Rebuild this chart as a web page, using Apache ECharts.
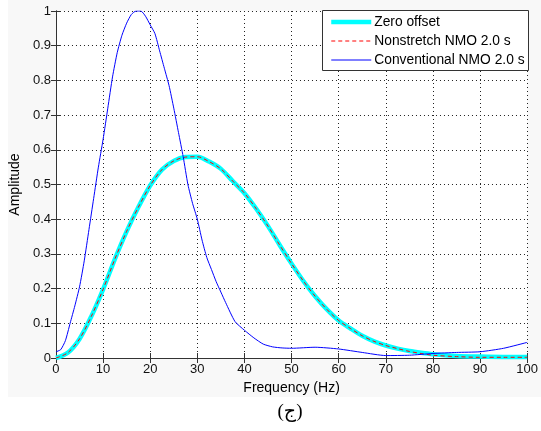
<!DOCTYPE html>
<html><head><meta charset="utf-8">
<script src="https://cdn.jsdelivr.net/npm/echarts@6/dist/echarts.min.js"></script>
<style>html,body{margin:0;padding:0;background:#fff}#c{width:541px;height:431px}</style>
</head><body><div id="c"></div>
<script>
// Frequency samples (Hz)
const freqZero = [0,2.5,5,7.5,10,12.5,15,17.5,20,22.5,25,27.5,30,32.5,35,37.5,40,42.5,45,47.5,50,52.5,55,57.5,60,62.5,65,67.5,70,72.5,75,77.5,80,85,90,95,100];
const zeroOffset = [0,0.015,0.055,0.12,0.198,0.285,0.365,0.435,0.497,0.543,0.568,0.579,0.58,0.566,0.545,0.51,0.475,0.43,0.38,0.325,0.272,0.222,0.178,0.14,0.108,0.085,0.064,0.048,0.036,0.027,0.02,0.015,0.011,0.006,0.004,0.003,0.003];
const nonstretch = [0,0.015,0.055,0.12,0.198,0.285,0.365,0.435,0.497,0.543,0.568,0.579,0.58,0.566,0.545,0.51,0.475,0.43,0.38,0.325,0.272,0.222,0.178,0.14,0.108,0.085,0.064,0.048,0.036,0.027,0.019,0.013,0.008,0.004,0.002,0.002,0.002];
const freqConv = [0,1,2,3,4,5,6,7,8,9,10,11,12,13,14,15,16,17,18,19,20,21,22,23,24,25,26,27,28,29,30,31,32,33,34,35,36,38,40,42,44,46,48,50,55,60,65,70,75,80,85,90,95,100];
const conventional = [0.018,0.024,0.05,0.1,0.15,0.205,0.28,0.37,0.46,0.55,0.63,0.72,0.81,0.88,0.93,0.965,0.99,1.0,1.0,0.985,0.96,0.935,0.885,0.835,0.785,0.72,0.65,0.58,0.5,0.445,0.4,0.34,0.29,0.255,0.22,0.19,0.16,0.105,0.08,0.058,0.04,0.032,0.029,0.028,0.031,0.026,0.016,0.007,0.008,0.013,0.016,0.018,0.028,0.045];
const xTicks = [0,10,20,30,40,50,60,70,80,90,100];
const seriesNames = ['Zero offset','Nonstretch NMO 2.0 s','Conventional NMO 2.0 s'];
const xName = 'Frequency (Hz)';
const yName = 'Amplitude';
const caption = '(ج)';

const pair = (xs, ys) => xs.map((x, i) => [x, ys[i]]);
const FONT = '"Liberation Sans", Arial, sans-serif';
const chart = echarts.init(document.getElementById('c'), null, {renderer: 'canvas'});
const axisCommon = {
  type: 'value',
  axisLine: {show: true, lineStyle: {color: '#333', width: 1}},
  axisTick: {show: true, inside: true, length: 5, lineStyle: {color: '#333'}},
  axisLabel: {color: '#111', fontSize: 13, fontFamily: FONT}
};
chart.setOption({
  backgroundColor: '#ffffff',
  animation: false,
  graphic: [
    {type: 'rect', z: -10, shape: {x: 8, y: 0, width: 533, height: 397}, style: {fill: '#f8f8f8'}},
    {type: 'rect', z: 50, shape: {x: 322.5, y: 10.5, width: 206, height: 60}, style: {fill: '#fff', stroke: '#333', lineWidth: 1}},
    {type: 'text', z: 60, x: 290, y: 412, style: {text: caption, font: '19px "Liberation Serif", "DejaVu Sans", serif', fill: '#000', align: 'center', verticalAlign: 'middle'}}
  ],
  legend: {
    z: 100,
    orient: 'vertical',
    left: 329, top: 15,
    padding: 0,
    itemWidth: 40, itemHeight: 14, itemGap: 5,
    itemStyle: {opacity: 0},
    lineStyle: {width: 'inherit'},
    textStyle: {fontSize: 13.8, fontFamily: FONT, color: '#000', padding: [0,0,0,-2]},
    data: seriesNames
  },
  grid: {left: 53, right: 13, top: 11, bottom: 73, show: true, backgroundColor: '#ffffff', borderWidth: 0},
  xAxis: [
    Object.assign({}, axisCommon, {
      min: 0, max: 100, interval: 10, position: 'bottom',
      name: xName, nameLocation: 'middle', nameGap: 22,
      nameTextStyle: {fontSize: 14, fontFamily: FONT, color: '#000'},
      axisLabel: Object.assign({}, axisCommon.axisLabel, {margin: 5}),
      splitLine: {show: true, lineStyle: {type: [1, 3], color: '#222', width: 1}}
    }),
    Object.assign({}, axisCommon, {
      min: 0, max: 100, interval: 10, position: 'top',
      axisLabel: {show: false}, splitLine: {show: false}
    })
  ],
  yAxis: [
    Object.assign({}, axisCommon, {
      min: 0, max: 1, interval: 0.1, position: 'left',
      name: yName, nameLocation: 'middle', nameGap: 28,
      nameTextStyle: {fontSize: 14, fontFamily: FONT, color: '#000'},
      axisLabel: Object.assign({}, axisCommon.axisLabel, {margin: 5, formatter: v => String(Math.round(v*10)/10)}),
      splitLine: {show: true, lineStyle: {type: [1, 3], color: '#222', width: 1}}
    }),
    Object.assign({}, axisCommon, {
      min: 0, max: 1, interval: 0.1, position: 'right',
      axisLabel: {show: false}, splitLine: {show: false}
    })
  ],
  series: [
    {name: seriesNames[0], type: 'line', data: pair(freqZero, zeroOffset), smooth: 0.3, symbol: 'none',
     lineStyle: {color: '#00ffff', width: 4.5}, itemStyle: {color: '#00ffff'}, z: 2},
    {name: seriesNames[1], type: 'line', data: pair(freqZero, nonstretch), smooth: 0.3, symbol: 'none',
     lineStyle: {color: '#ff0000', width: 1, type: [4, 3]}, itemStyle: {color: '#ff0000'}, z: 3},
    {name: seriesNames[2], type: 'line', data: pair(freqConv, conventional), smooth: 0.2, symbol: 'none',
     lineStyle: {color: '#0000ff', width: 1}, itemStyle: {color: '#0000ff'}, z: 4}
  ]
});
</script></body></html>
